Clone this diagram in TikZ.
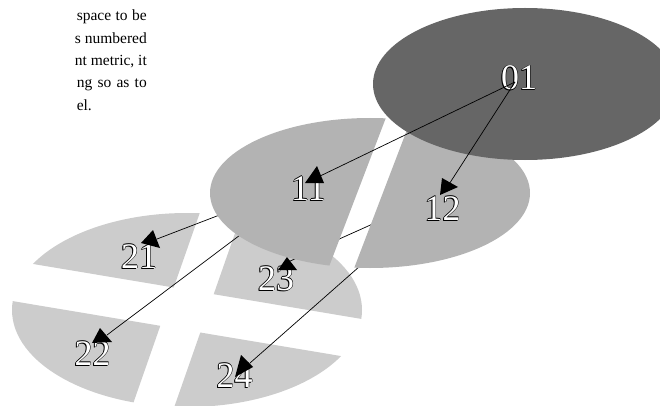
\documentclass[tikz,border=0pt]{standalone}
\usepackage{fontspec}
\setmainfont{Liberation Serif}
\definecolor{topgray}{RGB}{102,102,102}
\definecolor{midgray}{RGB}{179,179,179}
\definecolor{lowgray}{RGB}{204,204,204}
% white digits with a thin dark rim and a soft lower-left edge
\newcommand\rimtext[1]{%
  \makebox[0pt][l]{\color{black}\kern-0.6pt#1}%
  \makebox[0pt][l]{\color{black}\kern0.6pt#1}%
  \makebox[0pt][l]{\color{black}\raisebox{0.6pt}{#1}}%
  \makebox[0pt][l]{\color{black}\raisebox{-0.6pt}{#1}}%
  \makebox[0pt][l]{\color{black}\kern-1pt\raisebox{-1pt}{#1}}%
  {\color{white}#1}}
\tikzset{
  link/.style={line width=0.7pt, draw=black},
  head/.style={fill=black},
  tag/.style={anchor=base, inner sep=0pt, font=\fontsize{36}{36}\selectfont},
  para/.style={anchor=base east, inner sep=0pt, font=\fontsize{15.5}{18}\selectfont}
}
\begin{document}
\begin{tikzpicture}[x=1pt,y=-1pt]
\path[use as bounding box] (0,0) rectangle (660,406);
\clip (0,0) rectangle (660,406);

% text column, justified to a common right edge
\node[para] (p1) at (147,21)  {\makebox[70pt][s]{space to be}};
\node[para] (p2) at (147,44)  {s numbered};
\node[para] (p3) at (147,66)  {nt metric, it};
\node[para] (p4) at (147,88)  {\makebox[70pt][s]{ng so as to}};
\node[para, anchor=base west] (p5) at (p4.base west) [yshift=-23pt] {el.};

% centres of the three layers
\coordinate (c0) at (525,84);
\coordinate (c1) at (370,193);
\coordinate (c2) at (187,310);

% points where the connectors meet
\coordinate (n01) at (515,82);
\coordinate (n11) at (316,178);
\coordinate (n12) at (444,192);
\coordinate (h21) at (157,239);
\coordinate (h22) at (107,335);
\coordinate (h23) at (288,262);
\coordinate (h24) at (250,363);

% ---- bottom layer: four quarters
\begin{scope}
  \clip (173.7,287.5) -- (338.7,-184.5) -- (-154.3,-267) -- (-319.3,205) -- cycle;
  \fill[lowgray] (c2) ellipse [x radius=175pt, y radius=97pt];
\end{scope}
\begin{scope}
  \clip (160.3,325.8) -- (-4.7,797.8) -- (-497.7,715.3) -- (-332.7,243.3) -- cycle;
  \fill[lowgray] (c2) ellipse [x radius=175pt, y radius=97pt];
\end{scope}
\begin{scope}
  \clip (213.7,294.2) -- (378.7,-177.8) -- (871.7,-95.3) -- (706.7,376.7) -- cycle;
  \fill[lowgray] (c2) ellipse [x radius=175pt, y radius=97pt];
\end{scope}
\begin{scope}
  \clip (200.3,332.5) -- (35.3,804.5) -- (528.3,887) -- (693.3,415) -- cycle;
  \fill[lowgray] (c2) ellipse [x radius=175pt, y radius=97pt];
\end{scope}

\node[tag] (l21) at (139,268)   {\rimtext{21}};
\node[tag] (l22) at (92.5,365)  {\rimtext{22}};
\node[tag] (l23) at (276,290)   {\rimtext{23}};
\node[tag] (l24) at (234.5,387) {\rimtext{24}};

% connectors from the middle layer
\draw[link] (n11) -- (h21);
\draw[link] (n11) -- (h22);
\draw[link] (n12) -- (h23);
\draw[link] (n12) -- (h24);
\fill[head] (h21) ++(-4,-9) -- ++(-12,13) -- ++(19,5) -- cycle;
\fill[head] (h22) ++(-7,-7) -- ++(-8,15) -- ++(20,-1) -- cycle;
\fill[head] (h23) ++(-1,-5) -- ++(-9,13) -- ++(19,0) -- cycle;
\fill[head] (h24) ++(-9,-8) -- ++(-6,22) -- ++(18,-10) -- cycle;

% ---- middle layer: two halves
\begin{scope}
  \clip (537.3,-278.3) -- (180.3,655.7) -- (-286.7,477.2) -- (70.3,-456.8) -- cycle;
  \fill[midgray] (c1) ellipse [x radius=160pt, y radius=75pt];
\end{scope}
\begin{scope}
  \clip (559.7,-269.7) -- (202.7,664.3) -- (669.7,842.8) -- (1026.7,-91.2) -- cycle;
  \fill[midgray] (c1) ellipse [x radius=160pt, y radius=75pt];
\end{scope}

\node[tag] (l11) at (308.5,200) {\rimtext{11}};
\node[tag] (l12) at (442.5,220) {\rimtext{12}};

% ---- top layer
\fill[topgray] (c0) ellipse [x radius=152pt, y radius=76pt];
\node[tag] (l01) at (519,90) {\rimtext{01}};

\draw[link] (n01) -- (n11);
\draw[link] (n01) -- (n12);
\fill[head] (n11) ++(1,-12) -- ++(-12,17) -- ++(19,0) -- cycle;
\fill[head] (n12) ++(-4,3) -- ++(2,-17) -- ++(16,9) -- cycle;
\end{tikzpicture}
\end{document}
